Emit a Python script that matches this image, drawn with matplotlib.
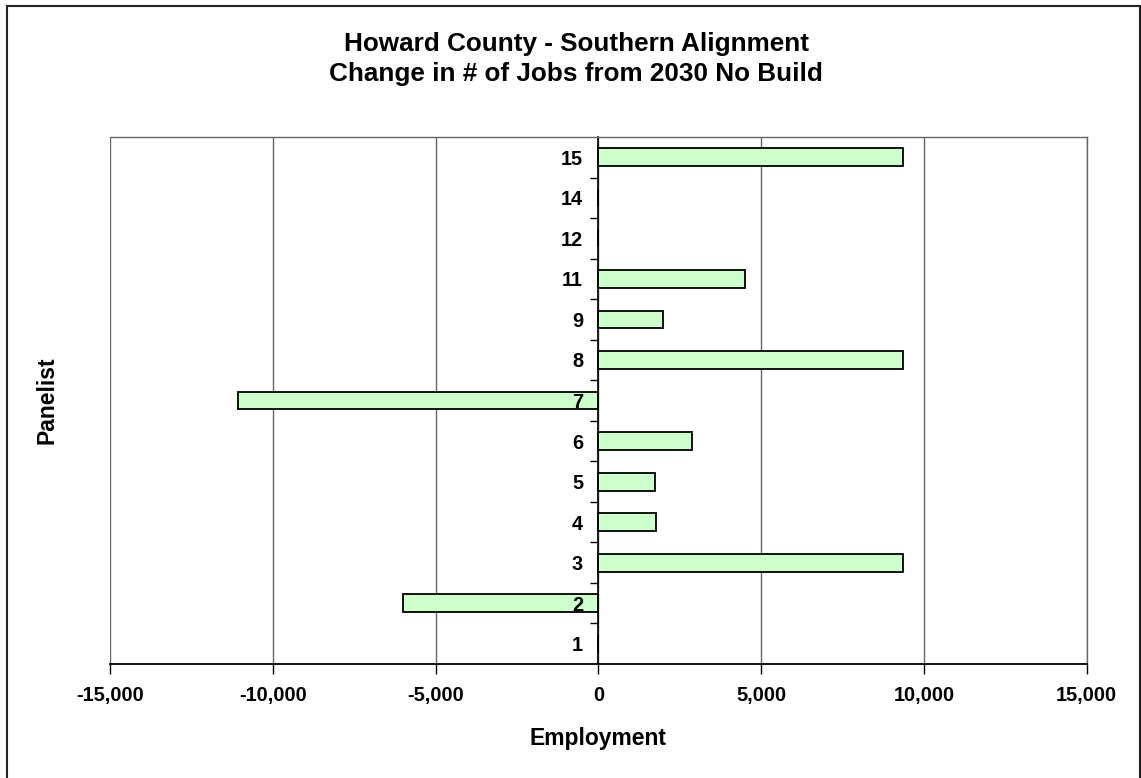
import matplotlib
matplotlib.use('Agg')
import matplotlib.pyplot as plt
from matplotlib.ticker import FuncFormatter, MultipleLocator, FixedLocator
from matplotlib.patches import Rectangle

panelists = ['1', '2', '3', '4', '5', '6', '7', '8', '9', '11', '12', '14', '15']
jobs_change = [0, -6010, 9360, 1780, 1740, 2890, -11060, 9360, 1980, 4510, 0, 0, 9360]

BAR_FILL = '#CCFFCC'
GRID = '#666666'

plt.rcParams['font.family'] = ['Liberation Sans', 'DejaVu Sans']
plt.rcParams['font.weight'] = 'bold'

fig = plt.figure(figsize=(11.41, 7.78), dpi=100)
ax = fig.add_axes([0.0964, 0.1465, 0.856, 0.6774])

y = list(range(len(panelists)))
ax.barh(y, jobs_change, height=0.44, color=BAR_FILL, edgecolor='black',
        linewidth=1.3, zorder=1)

ax.set_xlim(-15000, 15000)
ax.set_ylim(-0.5, len(panelists) - 0.5)

# vertical gridlines under the bars
ax.xaxis.set_major_locator(MultipleLocator(5000))
ax.xaxis.grid(True, color=GRID, linewidth=1)
ax.set_axisbelow(True)
ax.xaxis.set_major_formatter(FuncFormatter(lambda v, p: f'{int(v):,}'))
ax.tick_params(axis='x', direction='out', length=7, width=1, pad=9,
               labelsize=14.4)

# category axis sits on zero, tick marks between categories
ax.spines['left'].set_position(('data', 0))
ax.spines['left'].set_linewidth(1.2)
ax.yaxis.set_zorder(3)
ax.set_yticks(y)
ax.set_yticklabels(panelists)
ax.yaxis.set_minor_locator(FixedLocator([i + 0.5 for i in range(len(panelists) - 1)]))
ax.tick_params(axis='y', which='major', length=0, pad=11, labelsize=14.3)
ax.tick_params(axis='y', which='minor', direction='out', length=6, width=1)

for side in ['top', 'right']:
    ax.spines[side].set_color(GRID)
    ax.spines[side].set_linewidth(1)
ax.spines['bottom'].set_linewidth(1.3)

fig.text(576 / 1141, 1 - 44 / 778, 'Howard County - Southern Alignment', ha='center',
         va='center', fontsize=18.8, fontweight='bold')
fig.text(576 / 1141, 1 - 74 / 778, 'Change in # of Jobs from 2030 No Build', ha='center',
         va='center', fontsize=18.8, fontweight='bold')
fig.text(598 / 1141, 1 - 738 / 778, 'Employment', ha='center', va='center',
         fontsize=16.5, fontweight='bold')
fig.text(47 / 1141, 1 - 400 / 778, 'Panelist', ha='center', va='center',
         rotation=90, fontsize=16.5, fontweight='bold')

# chart frame
fig.patches.append(Rectangle((6.5 / 1141, -0.01), (1140 - 6.5) / 1141, 1.01 - 6 / 778,
                             transform=fig.transFigure, fill=False,
                             edgecolor='#222222', linewidth=1.5))

fig.savefig('out.png', dpi=100)
